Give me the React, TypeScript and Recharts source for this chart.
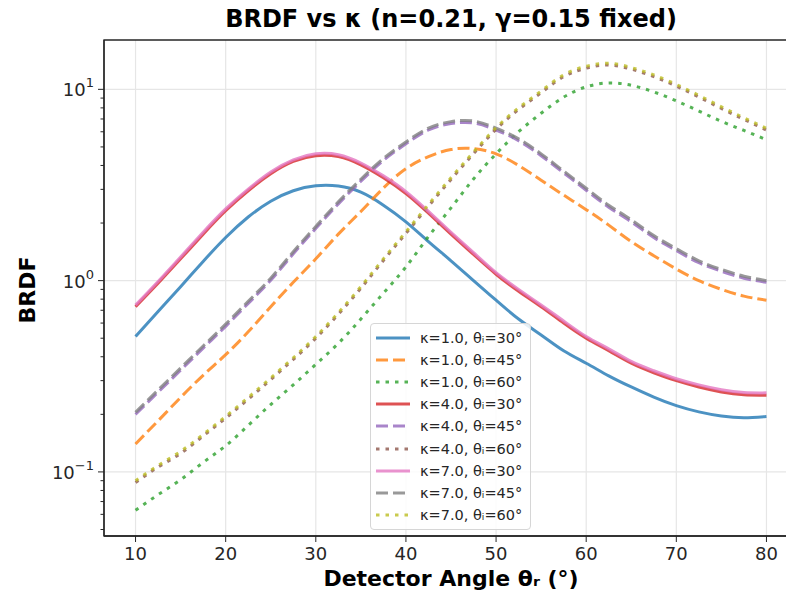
import React from 'react';
import { LineChart, Line, XAxis, YAxis, CartesianGrid, ReferenceArea } from 'recharts';

// Detector angle θr (degrees)
const angles = [10, 12.5, 15, 17.5, 20, 22.5, 25, 27.5, 30, 32.5, 35, 37.5, 40, 42.5, 45, 47.5, 50, 52.5, 55, 57.5, 60, 62.5, 65, 67.5, 70, 72.5, 75, 77.5, 80];

// BRDF values per series
const k1_t30 = [0.51, 0.69, 0.93, 1.26, 1.68, 2.15, 2.6, 2.95, 3.13, 3.12, 2.9, 2.48, 2.03, 1.6, 1.27, 1.0, 0.79, 0.63, 0.52, 0.43, 0.37, 0.318, 0.278, 0.246, 0.222, 0.206, 0.196, 0.192, 0.195];
const k1_t45 = [0.14, 0.185, 0.245, 0.32, 0.41, 0.54, 0.73, 0.98, 1.3, 1.75, 2.3, 3.05, 3.85, 4.45, 4.85, 4.9, 4.6, 4.0, 3.35, 2.8, 2.35, 1.95, 1.6, 1.35, 1.15, 1.0, 0.9, 0.83, 0.79];
const k1_t60 = [0.063, 0.076, 0.091, 0.112, 0.137, 0.175, 0.225, 0.285, 0.365, 0.47, 0.63, 0.86, 1.18, 1.7, 2.4, 3.4, 4.6, 6.0, 7.5, 9.1, 10.3, 10.8, 10.5, 9.7, 8.7, 7.7, 6.8, 6.1, 5.45];
const k4_t30 = [0.73, 0.97, 1.3, 1.75, 2.32, 2.95, 3.62, 4.2, 4.5, 4.45, 4.03, 3.45, 2.85, 2.25, 1.75, 1.37, 1.08, 0.88, 0.73, 0.6, 0.5, 0.43, 0.37, 0.33, 0.3, 0.278, 0.262, 0.253, 0.252];
const k4_t45 = [0.2, 0.261, 0.34, 0.444, 0.577, 0.76, 1.005, 1.38, 1.875, 2.52, 3.31, 4.25, 5.19, 6.13, 6.62, 6.67, 6.13, 5.39, 4.5, 3.66, 2.97, 2.42, 2.03, 1.68, 1.435, 1.24, 1.12, 1.03, 0.98];
const k4_t60 = [0.088, 0.106, 0.125, 0.154, 0.191, 0.24, 0.304, 0.387, 0.5, 0.667, 0.912, 1.275, 1.765, 2.45, 3.38, 4.61, 6.18, 7.84, 9.6, 11.65, 12.9, 13.4, 12.75, 11.65, 10.4, 9.12, 7.94, 6.96, 6.13];
const k7_t30 = [0.745, 0.99, 1.33, 1.79, 2.37, 3.01, 3.7, 4.28, 4.6, 4.55, 4.12, 3.53, 2.92, 2.3, 1.79, 1.4, 1.1, 0.9, 0.745, 0.615, 0.51, 0.44, 0.378, 0.338, 0.307, 0.285, 0.269, 0.26, 0.259];
const k7_t45 = [0.205, 0.268, 0.349, 0.455, 0.592, 0.78, 1.03, 1.415, 1.92, 2.58, 3.39, 4.35, 5.31, 6.27, 6.78, 6.83, 6.27, 5.51, 4.6, 3.74, 3.04, 2.48, 2.08, 1.72, 1.47, 1.27, 1.145, 1.055, 1.0];
const k7_t60 = [0.09, 0.108, 0.128, 0.157, 0.195, 0.245, 0.31, 0.395, 0.51, 0.68, 0.93, 1.3, 1.8, 2.5, 3.45, 4.7, 6.3, 8.0, 9.8, 11.9, 13.2, 13.7, 13.0, 11.9, 10.6, 9.3, 8.1, 7.1, 6.25];

const xTicks = [10, 20, 30, 40, 50, 60, 70, 80];
const yMajor = [0.1, 1, 10];
const yMajorLabels = ['\u22121', '0', '1'];
const yMinor = [0.05, 0.06, 0.07, 0.08, 0.09, 0.2, 0.3, 0.4, 0.5, 0.6, 0.7, 0.8, 0.9, 2, 3, 4, 5, 6, 7, 8, 9];

const TITLE = 'BRDF vs \u03ba (n=0.21, \u03b3=0.15 fixed)';
const XLABEL = 'Detector Angle \u03b8\u1d63 (\u00b0)';
const YLABEL = 'BRDF';

const series = [
  { key: 'k1_t30', values: k1_t30, name: '\u03ba=1.0, \u03b8\u1d62=30\u00b0', color: '#1f77b4', dash: '' },
  { key: 'k1_t45', values: k1_t45, name: '\u03ba=1.0, \u03b8\u1d62=45\u00b0', color: '#ff7f0e', dash: '12 5' },
  { key: 'k1_t60', values: k1_t60, name: '\u03ba=1.0, \u03b8\u1d62=60\u00b0', color: '#2ca02c', dash: '3.5 6' },
  { key: 'k4_t30', values: k4_t30, name: '\u03ba=4.0, \u03b8\u1d62=30\u00b0', color: '#d62728', dash: '' },
  { key: 'k4_t45', values: k4_t45, name: '\u03ba=4.0, \u03b8\u1d62=45\u00b0', color: '#9467bd', dash: '12 5' },
  { key: 'k4_t60', values: k4_t60, name: '\u03ba=4.0, \u03b8\u1d62=60\u00b0', color: '#8c564b', dash: '3.5 6' },
  { key: 'k7_t30', values: k7_t30, name: '\u03ba=7.0, \u03b8\u1d62=30\u00b0', color: '#e377c2', dash: '' },
  { key: 'k7_t45', values: k7_t45, name: '\u03ba=7.0, \u03b8\u1d62=45\u00b0', color: '#7f7f7f', dash: '12 5' },
  { key: 'k7_t60', values: k7_t60, name: '\u03ba=7.0, \u03b8\u1d62=60\u00b0', color: '#bcbd22', dash: '3.5 6' },
];

const data = angles.map((a, i) => {
  const row: Record<string, number> = { angle: a };
  series.forEach((s) => { row[s.key] = s.values[i]; });
  return row;
});

const FONT = '"DejaVu Sans", sans-serif';
const INK = '#262626';
const X_DOMAIN: [number, number] = [6.5, 83.5];
const Y_DOMAIN: [number, number] = [0.04624, 18.11];
const AXIS_X = 104;

const YTick = (props: any) => {
  const { y, payload } = props;
  const v = payload.value;
  const mi = yMajor.findIndex((m) => Math.abs(m - v) < 1e-9);
  const major = mi >= 0;
  const len = major ? 6 : 3.5;
  return (
    <g>
      <line x1={AXIS_X - len} x2={AXIS_X} y1={y} y2={y} stroke={INK} strokeWidth={1} />
      {major && (
        <text x={AXIS_X - 10} y={y + 7} textAnchor="end" fontSize={18} fontFamily={FONT} fill={INK}>
          10<tspan dy={-9} fontSize={13}>{yMajorLabels[mi]}</tspan>
        </text>
      )}
    </g>
  );
};

const LegendBox = () => (
  <div
    style={{
      position: 'absolute',
      left: 370,
      top: 323,
      width: 161,
      boxSizing: 'border-box',
      border: '1px solid #d6d6d6',
      borderRadius: 4,
      background: 'rgba(255,255,255,0.85)',
      padding: '3px 0 3px 5px',
      fontFamily: FONT,
      fontSize: 14.5,
      color: INK,
    }}
  >
    {series.map((s) => (
      <div key={s.key} style={{ display: 'flex', alignItems: 'center', height: 22.1 }}>
        <svg width={34} height={10} style={{ marginRight: 10, flex: 'none' }}>
          <line x1={0} x2={34} y1={5} y2={5} stroke={s.color} strokeOpacity={0.8} strokeWidth={3} strokeDasharray={s.dash || undefined} />
        </svg>
        <span style={{ whiteSpace: 'nowrap' }}>{s.name}</span>
      </div>
    ))}
  </div>
);

export default function App() {
  return (
    <div style={{ position: 'absolute', left: 0, top: 0, width: 786, height: 597, overflow: 'hidden', background: '#fff' }}>
      <LineChart width={830} height={597} data={data} margin={{ top: 40, right: 32, bottom: 0, left: 0 }}>
        <CartesianGrid
          stroke="#e6e6e6"
          strokeWidth={1.2}
          horizontalValues={yMajor}
          verticalValues={xTicks}
        />
        <XAxis
          dataKey="angle"
          type="number"
          domain={X_DOMAIN}
          ticks={xTicks}
          allowDataOverflow
          height={61}
          tickSize={6}
          tickMargin={5}
          stroke={INK}
          tick={{ fontSize: 18, fontFamily: FONT, fill: INK }}
          axisLine={{ stroke: INK, strokeWidth: 1.3 }}
          tickLine={{ stroke: INK }}
        />
        <YAxis
          type="number"
          scale="log"
          domain={Y_DOMAIN}
          allowDataOverflow
          ticks={[...yMajor, ...yMinor]}
          width={AXIS_X}
          tickLine={false}
          axisLine={{ stroke: INK, strokeWidth: 1.3 }}
          tick={<YTick />}
          interval={0}
        />
        <ReferenceArea x1={X_DOMAIN[0]} x2={X_DOMAIN[1]} y1={Y_DOMAIN[0]} y2={Y_DOMAIN[1]} fill="none" stroke={INK} strokeWidth={1.3} ifOverflow="visible" />
        {series.map((s) => (
          <Line
            key={s.key}
            dataKey={s.key}
            name={s.name}
            type="natural"
            stroke={s.color}
            strokeOpacity={0.8}
            strokeWidth={3}
            strokeDasharray={s.dash || undefined}
            dot={false}
            activeDot={false}
            isAnimationActive={false}
          />
        ))}
      </LineChart>
      <LegendBox />
      <svg width={786} height={597} style={{ position: 'absolute', left: 0, top: 0, pointerEvents: 'none' }}>
        <text x={451} y={27} textAnchor="middle" fontSize={24} fontWeight="bold" fontFamily={FONT} fill="#000">{TITLE}</text>
        <text x={451} y={586} textAnchor="middle" fontSize={22} fontWeight="bold" fontFamily={FONT} fill="#000">{XLABEL}</text>
        <text transform="translate(35,290) rotate(-90)" textAnchor="middle" fontSize={22} fontWeight="bold" fontFamily={FONT} fill="#000">{YLABEL}</text>
      </svg>
    </div>
  );
}
